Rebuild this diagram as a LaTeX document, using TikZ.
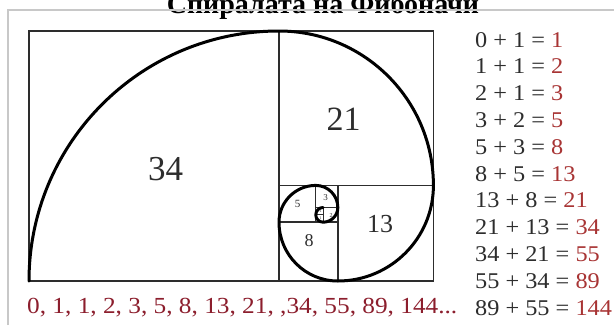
\documentclass[tikz,border=0pt]{standalone}
\usepackage{fontspec}
\setmainfont{Liberation Serif}
\newfontfamily\eqfont[FakeStretch=1.08]{Liberation Serif}
\newfontfamily\seqfont[FakeStretch=1.1]{Liberation Serif}
\definecolor{res}{RGB}{168,52,52}
\definecolor{seqred}{RGB}{140,30,45}
\definecolor{txt}{RGB}{45,45,45}
\definecolor{framegray}{RGB}{200,200,200}
\tikzset{
  lbl/.style={inner sep=0pt,text=txt},
  eq/.style={inner sep=0pt,anchor=base west,text=txt,font=\eqfont\fontsize{22.5}{24}\selectfont},
  gridline/.style={draw=txt,line width=1.7pt},
  spiral/.style={draw=black,line width=3pt,line cap=round,line join=round},
  frameline/.style={draw=framegray,line width=2pt}
}
\begin{document}
\begin{tikzpicture}[x=1pt,y=-1pt]
\useasboundingbox (0,0) rectangle (614,325);
\clip (0,0) rectangle (614,325);
\fill[white] (0,0) rectangle (614,325);
\node[inner sep=0pt,anchor=base,font=\fontsize{28}{30}\selectfont\bfseries] (title) at (323,13) {Спиралата на Фибоначи};
\draw[frameline] (8,325) -- (8,10) -- (614,10);
\begin{scope}[shift={(29pt,-31pt)},x=7.353pt,y=-7.353pt]
  \draw[gridline] (0,0) rectangle (55,34);
  \draw[gridline] (34,0) -- (34,34);
  \draw[gridline] (34,21) -- (55,21);
  \draw[gridline] (42,21) -- (42,34);
  \draw[gridline] (34,26) -- (42,26);
  \draw[gridline,line width=1.2pt] (39,21) -- (39,26);
  \draw[gridline,line width=1pt] (39,24) -- (42,24);
  \draw[gridline,line width=0.8pt] (40,24) -- (40,26);
  \draw[gridline,line width=0.8pt] (39,25) -- (40,25);
  \draw[spiral] (0,34) arc[start angle=180,end angle=270,radius=34]
    arc[start angle=270,end angle=360,radius=21]
    arc[start angle=0,end angle=90,radius=13]
    arc[start angle=90,end angle=180,radius=8]
    arc[start angle=180,end angle=270,radius=5]
    arc[start angle=270,end angle=360,radius=3]
    arc[start angle=0,end angle=90,radius=2]
    arc[start angle=90,end angle=180,radius=1]
    arc[start angle=180,end angle=270,radius=1];
\end{scope}
\node[lbl,font=\fontsize{35}{36}\selectfont] (l34) at (165.5,169.5) {34};
\node[lbl,font=\fontsize{34}{36}\selectfont] (l21) at (343.5,119.5) {21};
\node[lbl,font=\fontsize{26}{28}\selectfont] (l13) at (380,224) {13};
\node[lbl,font=\fontsize{18}{20}\selectfont] (l8) at (309,241) {8};
\node[lbl,font=\fontsize{11}{12}\selectfont] (l5) at (297.5,203.5) {5};
\node[lbl,font=\fontsize{9}{10}\selectfont] (l3) at (325.5,198) {3};
\node[lbl,font=\fontsize{6}{7}\selectfont] (l2) at (331,216) {2};
\node[lbl,font=\fontsize{4}{5}\selectfont] (l1a) at (320.5,211) {1};
\node[lbl,font=\fontsize{4}{5}\selectfont] (l1b) at (320.5,218.5) {1};
\node[eq] (e1) at (475,47) {0 + 1 = {\color{res}1}};
\node[eq] (e2) at (475,73.8) {1 + 1 = {\color{res}2}};
\node[eq] (e3) at (475,100.6) {2 + 1 = {\color{res}3}};
\node[eq] (e4) at (475,127.4) {3 + 2 = {\color{res}5}};
\node[eq] (e5) at (475,154.2) {5 + 3 = {\color{res}8}};
\node[eq] (e6) at (475,181) {8 + 5 = {\color{res}13}};
\node[eq] (e7) at (475,207.8) {13 + 8 = {\color{res}21}};
\node[eq] (e8) at (475,234.6) {21 + 13 = {\color{res}34}};
\node[eq] (e9) at (475,261.4) {34 + 21 = {\color{res}55}};
\node[eq] (e10) at (475,288.2) {55 + 34 = {\color{res}89}};
\node[eq] (e11) at (475,315) {89 + 55 = {\color{res}144}};
\node[inner sep=0pt,anchor=base west,text=seqred,font=\seqfont\fontsize{23}{25}\selectfont] (seq) at (27,313) {0, 1, 1, 2, 3, 5, 8, 13, 21, ,34, 55, 89, 144...};
\end{tikzpicture}
\end{document}
